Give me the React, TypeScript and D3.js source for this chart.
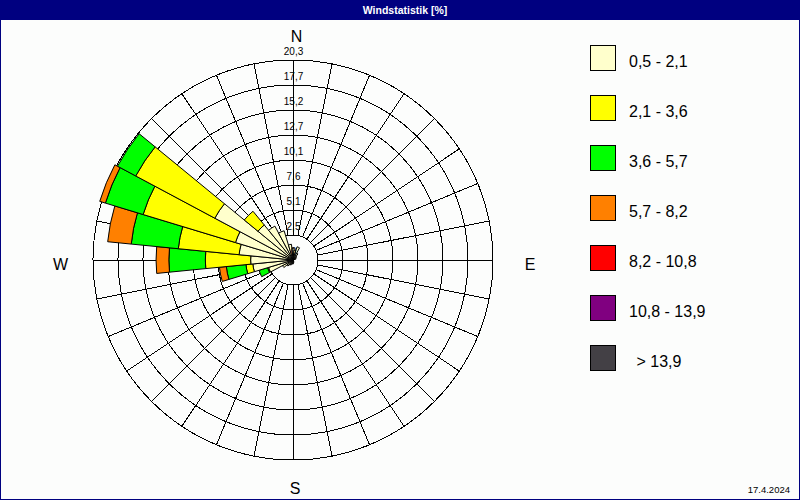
// Wind rose (Windstatistik) drawn with d3 arcs.

import * as d3 from "d3";

// 32 sectors, 11.25 deg each, starting at N and going clockwise
const sectorCount = 32;

// per speed class, % frequency for each sector (index 0 = N)
const pale = [
  1.2, 1.0, 1.4, 0.8, 0.5, 0.4, 0.3, 0, 0, 0, 0, 0, 0, 0, 0.2, 0.3, 0.4, 0.4,
  0.5, 0.6, 0.8, 1.2, 2.6, 4.1, 4.3, 5.5, 6.1, 9.0, 4.6, 3.9, 3.1, 1.6,
];
const yellow = [
  0, 0, 0, 0, 0, 0, 0, 0, 0, 0, 0, 0, 0, 0, 0, 0, 0, 0, 0, 0, 0, 0, 0.1, 0.7,
  4.6, 6.2, 9.8, 9.1, 1.8, 0, 0, 0,
];
const green = [
  0, 0, 0, 0, 0, 0, 0, 0, 0, 0, 0, 0, 0, 0, 0, 0, 0, 0, 0, 0, 0, 0, 0.9, 2.0,
  3.7, 4.8, 4.0, 2.1, 0, 0, 0, 0,
];
const orange = [
  0, 0, 0, 0, 0, 0, 0, 0, 0, 0, 0, 0, 0, 0, 0, 0, 0, 0, 0, 0, 0, 0, 0, 0.7,
  1.3, 2.4, 0.6, 0, 0, 0, 0, 0,
];
const red = new Array(32).fill(0);
const purple = new Array(32).fill(0);
const dark = new Array(32).fill(0);

const classLabels = [
  "0,5 - 2,1",
  "2,1 - 3,6",
  "3,6 - 5,7",
  "5,7 - 8,2",
  "8,2 - 10,8",
  "10,8 - 13,9",
  "> 13,9",
];
const classColors = [
  "#ffffcc",
  "#ffff00",
  "#00ff00",
  "#ff8000",
  "#ff0000",
  "#800080",
  "#434045",
];

const ringLabels = ["0", "2,5", "5,1", "7,6", "10,1", "12,7", "15,2", "17,7", "20,3"];
const maxValue = 20.3;

export default function App() {
  const width = 800;
  const height = 500;
  const cx = 293;
  const cy = 260;
  const radius = 200;

  const series = [pale, yellow, green, orange, red, purple, dark];
  const rScale = d3.scaleLinear([0, maxValue], [0, radius]);
  const ringValues = ringLabels.map((_, k) => (maxValue * k) / (ringLabels.length - 1));
  const step = (2 * Math.PI) / sectorCount;
  const arc = d3.arc();

  // stack classes per sector
  const segments = [];
  for (let i = 0; i < sectorCount; i++) {
    let acc = 0;
    series.forEach((s, c) => {
      const v = s[i];
      if (v > 0) {
        segments.push({
          c,
          d: arc({
            innerRadius: rScale(acc),
            outerRadius: rScale(acc + v),
            startAngle: i * step - step / 2,
            endAngle: i * step + step / 2,
          }),
        });
      }
      acc += v;
    });
  }

  const innerR = rScale(ringValues[1]);
  const font = "'Liberation Sans', Arial, sans-serif";

  return (
    <svg
      width={width}
      height={height}
      style={{ position: "absolute", left: 0, top: 0 }}
      fontFamily={font}
    >
      <rect width={width} height={height} fill="#fcfdfc" />
      <rect width={width} height={20} fill="#000080" />
      <text
        x={405}
        y={14}
        fill="white"
        fontWeight="bold"
        fontSize={10.5}
        textAnchor="middle"
      >
        Windstatistik [%]
      </text>
      <rect
        x={0.5}
        y={0.5}
        width={width - 1}
        height={height - 1}
        fill="none"
        stroke="#000080"
      />

      <g transform={`translate(${cx},${cy})`}>
        {/* grid */}
        <g fill="none" stroke="black" strokeWidth={1} shapeRendering="crispEdges">
          {ringValues.slice(1).map((v, k) => (
            <circle key={k} r={rScale(v)} />
          ))}
          {d3.range(sectorCount).map((i) => {
            const a = i * step;
            return (
              <line
                key={i}
                x1={innerR * Math.sin(a)}
                y1={-innerR * Math.cos(a)}
                x2={radius * Math.sin(a)}
                y2={-radius * Math.cos(a)}
              />
            );
          })}
        </g>
        {/* bars */}
        <g stroke="black" strokeWidth={1}>
          {segments.map((s, k) => (
            // biome-ignore lint/suspicious/noArrayIndexKey: static
            <path key={k} d={s.d} fill={classColors[s.c]} />
          ))}
        </g>
        {/* ring labels */}
        <g fontSize={10} textAnchor="middle" fill="black">
          {ringLabels.map((l, k) => (
            <text key={l} x={0.5} y={-rScale(ringValues[k]) - 5}>
              {l}
            </text>
          ))}
        </g>
      </g>

      <g fontSize={16} textAnchor="middle" fill="black">
        <text x={296.5} y={42}>N</text>
        <text x={60.5} y={270}>W</text>
        <text x={530} y={270}>E</text>
        <text x={295} y={494}>S</text>
      </g>

      {/* legend */}
      <g>
        {classLabels.map((l, j) => (
          <g key={l} transform={`translate(590.5,${45.5 + 50 * j})`}>
            <rect width={25} height={25} fill={classColors[j]} stroke="black" />
            <text x={j === 6 ? 46 : 38.5} y={21} fontSize={16} fill="black">
              {l}
            </text>
          </g>
        ))}
      </g>

      <text x={790} y={493} fontSize={9.5} textAnchor="end" fill="black">
        17.4.2024
      </text>
    </svg>
  );
}
